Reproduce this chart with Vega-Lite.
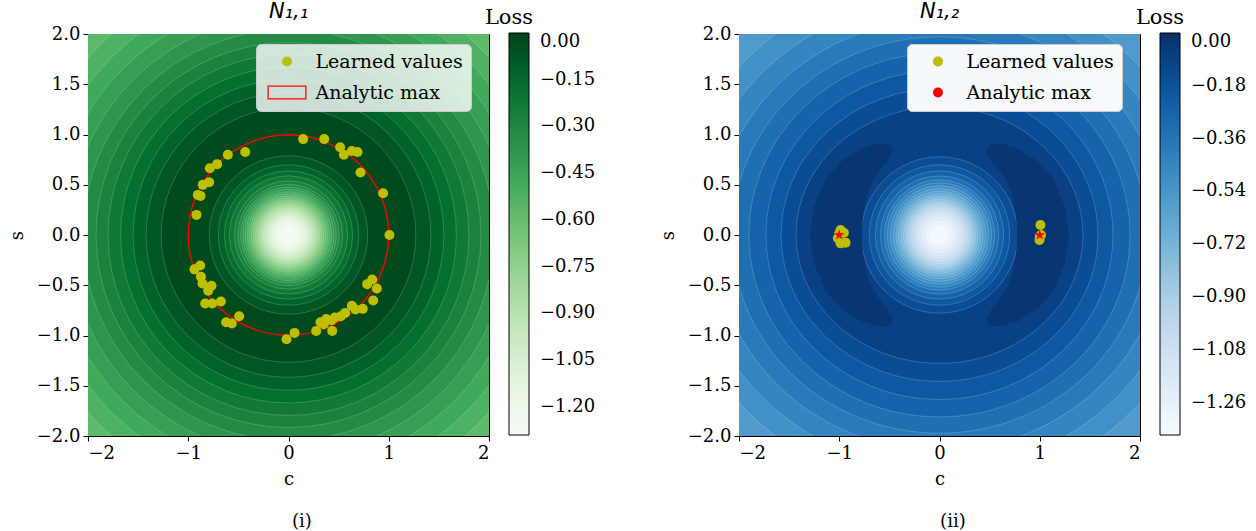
{
  "$schema": "https://vega.github.io/schema/vega-lite/v6.json",
  "padding": {"left": 7, "top": 0, "right": 2, "bottom": 0},
  "background": "white",
  "datasets": {
    "ringsL": [
      {"r": 2.85, "loss": -0.575}, {"r": 2.67, "loss": -0.525}, {"r": 2.50, "loss": -0.475}, {"r": 2.34, "loss": -0.425},
      {"r": 2.19, "loss": -0.375}, {"r": 2.05, "loss": -0.325},
      {"r": 1.92, "loss": -0.275}, {"r": 1.80, "loss": -0.225}, {"r": 1.675, "loss": -0.175}, {"r": 1.55, "loss": -0.125},
      {"r": 1.42, "loss": -0.075}, {"r": 1.27, "loss": -0.025}, {"r": 0.79, "loss": -0.075}, {"r": 0.70, "loss": -0.125},
      {"r": 0.64, "loss": -0.175}, {"r": 0.59, "loss": -0.225}, {"r": 0.54, "loss": -0.275}, {"r": 0.505, "loss": -0.325},
      {"r": 0.478, "loss": -0.375}, {"r": 0.455, "loss": -0.425}, {"r": 0.432, "loss": -0.475}, {"r": 0.41, "loss": -0.525},
      {"r": 0.39, "loss": -0.575}, {"r": 0.37, "loss": -0.625}, {"r": 0.35, "loss": -0.675}, {"r": 0.331, "loss": -0.725},
      {"r": 0.312, "loss": -0.775}, {"r": 0.293, "loss": -0.825}, {"r": 0.274, "loss": -0.875}, {"r": 0.255, "loss": -0.925},
      {"r": 0.235, "loss": -0.975}, {"r": 0.214, "loss": -1.025}, {"r": 0.192, "loss": -1.075}, {"r": 0.169, "loss": -1.125},
      {"r": 0.144, "loss": -1.175}, {"r": 0.114, "loss": -1.225}, {"r": 0.075, "loss": -1.265}
    ],
    "ringsR": [
      {"r": 3.15, "loss": -0.63, "sh": "e4"}, {"r": 2.90, "loss": -0.57, "sh": "e4"}, {"r": 2.66, "loss": -0.51, "sh": "e4"},
      {"r": 2.45, "loss": -0.45, "sh": "e4"}, {"r": 2.25, "loss": -0.39, "sh": "e4"}, {"r": 2.07, "loss": -0.33, "sh": "e4"},
      {"r": 1.90, "loss": -0.27, "sh": "e4"}, {"r": 1.73, "loss": -0.21, "sh": "e3"},
      {"r": 1.58, "loss": -0.15, "sh": "e2"}, {"r": 1.43, "loss": -0.09, "sh": "e1"},
      {"r": 0.78, "loss": -0.15, "sh": "c"}, {"r": 0.70, "loss": -0.21, "sh": "c"}, {"r": 0.64, "loss": -0.27, "sh": "c"},
      {"r": 0.59, "loss": -0.33, "sh": "c"}, {"r": 0.55, "loss": -0.39, "sh": "c"}, {"r": 0.521, "loss": -0.45, "sh": "c"},
      {"r": 0.491, "loss": -0.51, "sh": "c"}, {"r": 0.463, "loss": -0.57, "sh": "c"}, {"r": 0.436, "loss": -0.63, "sh": "c"},
      {"r": 0.41, "loss": -0.69, "sh": "c"}, {"r": 0.385, "loss": -0.75, "sh": "c"}, {"r": 0.36, "loss": -0.81, "sh": "c"},
      {"r": 0.335, "loss": -0.87, "sh": "c"}, {"r": 0.311, "loss": -0.93, "sh": "c"}, {"r": 0.286, "loss": -0.99, "sh": "c"},
      {"r": 0.261, "loss": -1.05, "sh": "c"}, {"r": 0.234, "loss": -1.11, "sh": "c"}, {"r": 0.206, "loss": -1.17, "sh": "c"},
      {"r": 0.175, "loss": -1.23, "sh": "c"}, {"r": 0.139, "loss": -1.29, "sh": "c"}, {"r": 0.093, "loss": -1.35, "sh": "c"}
    ],
    "cres": [
      {"id": "L", "k": 0, "c": -0.545, "s": 0.839, "w": 0.15, "loss": -0.03},
      {"id": "L", "k": 1, "c": -0.619, "s": 0.792, "w": 0.23, "loss": -0.03},
      {"id": "L", "k": 2, "c": -0.721, "s": 0.721, "w": 0.30, "loss": -0.03},
      {"id": "L", "k": 3, "c": -0.848, "s": 0.594, "w": 0.38, "loss": -0.03},
      {"id": "L", "k": 4, "c": -0.943, "s": 0.440, "w": 0.45, "loss": -0.03},
      {"id": "L", "k": 5, "c": -1.012, "s": 0.215, "w": 0.495, "loss": -0.03},
      {"id": "L", "k": 6, "c": -1.03, "s": 0.0, "w": 0.515, "loss": -0.03},
      {"id": "L", "k": 7, "c": -1.012, "s": -0.215, "w": 0.495, "loss": -0.03},
      {"id": "L", "k": 8, "c": -0.943, "s": -0.440, "w": 0.45, "loss": -0.03},
      {"id": "L", "k": 9, "c": -0.848, "s": -0.594, "w": 0.38, "loss": -0.03},
      {"id": "L", "k": 10, "c": -0.721, "s": -0.721, "w": 0.30, "loss": -0.03},
      {"id": "L", "k": 11, "c": -0.619, "s": -0.792, "w": 0.23, "loss": -0.03},
      {"id": "L", "k": 12, "c": -0.545, "s": -0.839, "w": 0.15, "loss": -0.03},
      {"id": "R", "k": 0, "c": 0.545, "s": 0.839, "w": 0.15, "loss": -0.03},
      {"id": "R", "k": 1, "c": 0.619, "s": 0.792, "w": 0.23, "loss": -0.03},
      {"id": "R", "k": 2, "c": 0.721, "s": 0.721, "w": 0.30, "loss": -0.03},
      {"id": "R", "k": 3, "c": 0.848, "s": 0.594, "w": 0.38, "loss": -0.03},
      {"id": "R", "k": 4, "c": 0.943, "s": 0.440, "w": 0.45, "loss": -0.03},
      {"id": "R", "k": 5, "c": 1.012, "s": 0.215, "w": 0.495, "loss": -0.03},
      {"id": "R", "k": 6, "c": 1.03, "s": 0.0, "w": 0.515, "loss": -0.03},
      {"id": "R", "k": 7, "c": 1.012, "s": -0.215, "w": 0.495, "loss": -0.03},
      {"id": "R", "k": 8, "c": 0.943, "s": -0.440, "w": 0.45, "loss": -0.03},
      {"id": "R", "k": 9, "c": 0.848, "s": -0.594, "w": 0.38, "loss": -0.03},
      {"id": "R", "k": 10, "c": 0.721, "s": -0.721, "w": 0.30, "loss": -0.03},
      {"id": "R", "k": 11, "c": 0.619, "s": -0.792, "w": 0.23, "loss": -0.03},
      {"id": "R", "k": 12, "c": 0.545, "s": -0.839, "w": 0.15, "loss": -0.03}
    ],
    "maxL": [{"r": 1}],
    "maxR": [{"c": -1, "s": 0, "kind": "Analytic max"}, {"c": 1, "s": 0, "kind": "Analytic max"}],
    "ptsL": [
      {"c": 0.146, "s": 0.954, "kind": "Learned values"}, {"c": 0.356, "s": 0.954, "kind": "Learned values"},
      {"c": 0.515, "s": 0.874, "kind": "Learned values"}, {"c": 0.552, "s": 0.798, "kind": "Learned values"},
      {"c": 0.632, "s": 0.835, "kind": "Learned values"}, {"c": 0.688, "s": 0.825, "kind": "Learned values"},
      {"c": 0.718, "s": 0.622, "kind": "Learned values"}, {"c": 0.944, "s": 0.416, "kind": "Learned values"},
      {"c": 1.007, "s": 0.0, "kind": "Learned values"}, {"c": 0.835, "s": -0.442, "kind": "Learned values"},
      {"c": 0.785, "s": -0.489, "kind": "Learned values"}, {"c": 0.881, "s": -0.532, "kind": "Learned values"},
      {"c": 0.845, "s": -0.652, "kind": "Learned values"}, {"c": 0.632, "s": -0.705, "kind": "Learned values"},
      {"c": 0.668, "s": -0.741, "kind": "Learned values"}, {"c": 0.741, "s": -0.735, "kind": "Learned values"},
      {"c": 0.565, "s": -0.775, "kind": "Learned values"}, {"c": 0.522, "s": -0.808, "kind": "Learned values"},
      {"c": 0.462, "s": -0.821, "kind": "Learned values"}, {"c": 0.429, "s": -0.848, "kind": "Learned values"},
      {"c": 0.376, "s": -0.835, "kind": "Learned values"}, {"c": 0.319, "s": -0.868, "kind": "Learned values"},
      {"c": 0.352, "s": -0.888, "kind": "Learned values"}, {"c": 0.436, "s": -0.954, "kind": "Learned values"},
      {"c": 0.276, "s": -0.954, "kind": "Learned values"}, {"c": 0.06, "s": -0.974, "kind": "Learned values"},
      {"c": -0.02, "s": -1.037, "kind": "Learned values"}, {"c": -0.492, "s": -0.808, "kind": "Learned values"},
      {"c": -0.565, "s": -0.881, "kind": "Learned values"}, {"c": -0.622, "s": -0.868, "kind": "Learned values"},
      {"c": -0.675, "s": -0.662, "kind": "Learned values"}, {"c": -0.761, "s": -0.682, "kind": "Learned values"},
      {"c": -0.831, "s": -0.682, "kind": "Learned values"}, {"c": -0.768, "s": -0.505, "kind": "Learned values"},
      {"c": -0.801, "s": -0.555, "kind": "Learned values"}, {"c": -0.858, "s": -0.482, "kind": "Learned values"},
      {"c": -0.874, "s": -0.416, "kind": "Learned values"}, {"c": -0.938, "s": -0.342, "kind": "Learned values"},
      {"c": -0.881, "s": -0.303, "kind": "Learned values"}, {"c": -0.918, "s": 0.2, "kind": "Learned values"},
      {"c": -0.878, "s": 0.389, "kind": "Learned values"}, {"c": -0.904, "s": 0.399, "kind": "Learned values"},
      {"c": -0.855, "s": 0.499, "kind": "Learned values"}, {"c": -0.791, "s": 0.525, "kind": "Learned values"},
      {"c": -0.785, "s": 0.665, "kind": "Learned values"}, {"c": -0.712, "s": 0.705, "kind": "Learned values"},
      {"c": -0.605, "s": 0.798, "kind": "Learned values"}, {"c": -0.432, "s": 0.825, "kind": "Learned values"}
    ],
    "ptsR": [
      {"c": -0.987, "s": 0.05, "kind": "Learned values"}, {"c": -0.954, "s": 0.022, "kind": "Learned values"},
      {"c": -1.014, "s": -0.033, "kind": "Learned values"}, {"c": -0.987, "s": -0.083, "kind": "Learned values"},
      {"c": -0.937, "s": -0.076, "kind": "Learned values"}, {"c": -1.0, "s": 0.017, "kind": "Learned values"},
      {"c": 1.007, "s": 0.1, "kind": "Learned values"}, {"c": 1.0, "s": -0.017, "kind": "Learned values"},
      {"c": 0.997, "s": -0.05, "kind": "Learned values"}, {"c": 1.013, "s": 0.0, "kind": "Learned values"}
    ]
  },
  "hconcat": [
    {
      "vconcat": [
        {
          "width": 401,
          "height": 402,
          "title": {"text": "N₁,₁", "frame": "group", "anchor": "middle", "offset": 3},
          "resolve": {"scale": {"size": "independent"}},
          "layer": [
            {
              "data": {"name": "ringsL"},
              "mark": {"type": "circle", "opacity": 1, "stroke": "white", "strokeOpacity": 0.3, "strokeWidth": 0.6, "clip": true},
              "encoding": {
                "x": {"datum": 0, "type": "quantitative", "title": "c", "scale": {"domain": [-2, 2], "nice": false, "zero": false}, "axis": {"values": [-2, -1, 0, 1, 2], "format": "d", "titlePadding": 8}},
                "y": {"datum": 0, "type": "quantitative", "title": "s", "scale": {"domain": [-2, 2], "nice": false, "zero": false}, "axis": {"values": [-2, -1.5, -1, -0.5, 0, 0.5, 1, 1.5, 2], "format": ".1f", "titlePadding": 10}},
                "size": {"field": "r", "type": "quantitative", "scale": {"type": "pow", "exponent": 2, "domain": [0, 3], "range": [0, 361802]}, "legend": null},
                "fill": {"field": "loss", "type": "quantitative", "scale": {"domain": [-1.29, 0], "range": ["#f7fcf5", "#e5f5e0", "#c7e9c0", "#a1d99b", "#74c476", "#41ab5d", "#238b45", "#006d2c", "#00441b"]},
                  "legend": {"title": "Loss", "orient": "none", "legendX": 397, "legendY": -27, "direction": "vertical", "gradientLength": 402, "gradientThickness": 20, "gradientStrokeColor": "black", "gradientStrokeWidth": 1, "values": [0, -0.15, -0.3, -0.45, -0.6, -0.75, -0.9, -1.05, -1.2], "format": ".2f", "labelFont": "DejaVu Serif", "labelFontSize": 18, "labelColor": "black", "labelOffset": 11, "labelOverlap": false, "titleFont": "DejaVu Serif", "titleFontSize": 21, "titleFontWeight": "normal", "titleColor": "black", "titleAnchor": "start", "titleAlign": "center", "titlePadding": 5, "padding": 0}},
                "order": {"field": "r", "type": "quantitative", "sort": "descending"}
              }
            },
            {
              "layer": [
                {
                  "data": {"name": "maxL"},
                  "mark": {"type": "point", "filled": false, "stroke": "#ff0000", "opacity": 1, "strokeWidth": 1.4, "clip": true},
                  "encoding": {
                    "x": {"datum": 0, "type": "quantitative", "title": "c"},
                    "y": {"datum": 0, "type": "quantitative", "title": "s"},
                    "size": {"field": "r", "type": "quantitative", "scale": {"type": "pow", "exponent": 2, "domain": [0, 3], "range": [0, 361802]}, "legend": null}
                  }
                },
                {
                  "data": {"name": "ptsL"},
                  "mark": {"type": "point", "filled": true, "size": 100, "opacity": 1},
                  "encoding": {
                    "x": {"field": "c", "type": "quantitative", "title": "c"},
                    "y": {"field": "s", "type": "quantitative", "title": "s"},
                    "color": {"field": "kind", "type": "nominal", "scale": {"domain": ["Learned values", "Analytic max"], "range": ["#bfbf00", "#ff0000"]},
                      "legend": {"orient": "none", "legendX": 168, "legendY": 10, "title": null, "fillColor": "rgba(255,255,255,0.8)", "strokeColor": "#cccccc", "cornerRadius": 5, "padding": 8, "labelFont": "DejaVu Serif", "labelFontSize": 19, "labelColor": "black", "labelOffset": 19, "labelLimit": 300, "symbolSize": 100, "symbolOffset": 13.5, "rowPadding": 11}},
                    "shape": {"field": "kind", "type": "nominal", "scale": {"domain": ["Learned values", "Analytic max"], "range": ["circle", "M-3.9,-1.4H3.9V1.4H-3.9ZM-3.65,-1.15V1.15H3.65V-1.15Z"]},
                      "legend": {"orient": "none", "legendX": 168, "legendY": 10, "title": null, "fillColor": "rgba(255,255,255,0.8)", "strokeColor": "#cccccc", "cornerRadius": 5, "padding": 8, "labelFont": "DejaVu Serif", "labelFontSize": 19, "labelColor": "black", "labelOffset": 19, "labelLimit": 300, "symbolSize": 100, "symbolOffset": 13.5, "rowPadding": 11}}
                  }
                }
              ]
            }
          ]
        }
      ],
      "title": {"text": "(i)", "orient": "bottom", "anchor": "middle", "font": "DejaVu Serif", "fontStyle": "normal", "fontSize": 18, "offset": 24}
    },
    {
      "vconcat": [
        {
          "width": 401,
          "height": 402,
          "title": {"text": "N₁,₂", "frame": "group", "anchor": "middle", "offset": 3},
          "resolve": {"scale": {"size": "independent", "shape": "independent"}},
          "layer": [
            {
              "data": {"name": "ringsR"},
              "mark": {"type": "point", "filled": true, "opacity": 1, "stroke": "white", "strokeOpacity": 0.3, "strokeWidth": 0.6, "clip": true},
              "encoding": {
                "x": {"datum": 0, "type": "quantitative", "title": "c", "scale": {"domain": [-2, 2], "nice": false, "zero": false}, "axis": {"values": [-2, -1, 0, 1, 2], "format": "d", "titlePadding": 8}},
                "y": {"datum": 0, "type": "quantitative", "title": "s", "scale": {"domain": [-2, 2], "nice": false, "zero": false}, "axis": {"values": [-2, -1.5, -1, -0.5, 0, 0.5, 1, 1.5, 2], "format": ".1f", "titlePadding": 10}},
                "size": {"field": "r", "type": "quantitative", "scale": {"type": "pow", "exponent": 2, "domain": [0, 3], "range": [0, 361802]}, "legend": null},
                "shape": {"field": "sh", "type": "nominal", "scale": {"domain": ["c", "e1", "e2", "e3", "e4", "Learned values", "Analytic max"], "range": ["circle",
                  "M-1,0C-1,-0.4943,-0.5523,-0.895,0,-0.895C0.5523,-0.895,1,-0.4943,1,0C1,0.4943,0.5523,0.895,0,0.895C-0.5523,0.895,-1,0.4943,-1,0Z",
                  "M-1,0C-1,-0.5103,-0.5523,-0.924,0,-0.924C0.5523,-0.924,1,-0.5103,1,0C1,0.5103,0.5523,0.924,0,0.924C-0.5523,0.924,-1,0.5103,-1,0Z",
                  "M-1,0C-1,-0.5236,-0.5523,-0.948,0,-0.948C0.5523,-0.948,1,-0.5236,1,0C1,0.5236,0.5523,0.948,0,0.948C-0.5523,0.948,-1,0.5236,-1,0Z",
                  "M-1,0C-1,-0.5274,-0.5523,-0.955,0,-0.955C0.5523,-0.955,1,-0.5274,1,0C1,0.5274,0.5523,0.955,0,0.955C-0.5523,0.955,-1,0.5274,-1,0Z",
                  "circle",
                  "M0,-1L0.2245,-0.309L0.951,-0.309L0.3633,0.118L0.588,0.809L0,0.382L-0.588,0.809L-0.3633,0.118L-0.951,-0.309L-0.2245,-0.309Z"]}, "legend": null},
                "fill": {"field": "loss", "type": "quantitative", "scale": {"domain": [-1.37, 0], "range": ["#f7fbff", "#deebf7", "#c6dbef", "#9ecae1", "#6baed6", "#4292c6", "#2171b5", "#08519c", "#08306b"]},
                  "legend": {"title": "Loss", "orient": "none", "legendX": 397, "legendY": -27, "direction": "vertical", "gradientLength": 402, "gradientThickness": 20, "gradientStrokeColor": "black", "gradientStrokeWidth": 1, "values": [0, -0.18, -0.36, -0.54, -0.72, -0.9, -1.08, -1.26], "format": ".2f", "labelFont": "DejaVu Serif", "labelFontSize": 18, "labelColor": "black", "labelOffset": 11, "labelOverlap": false, "titleFont": "DejaVu Serif", "titleFontSize": 21, "titleFontWeight": "normal", "titleColor": "black", "titleAnchor": "start", "titleAlign": "center", "titlePadding": 5, "padding": 0}},
                "order": {"field": "r", "type": "quantitative", "sort": "descending"}
              }
            },
            {
              "data": {"name": "cres"},
              "mark": {"type": "trail", "opacity": 1, "clip": true},
              "encoding": {
                "x": {"field": "c", "type": "quantitative", "title": "c"},
                "y": {"field": "s", "type": "quantitative", "title": "s"},
                "size": {"field": "w", "type": "quantitative", "scale": {"domain": [0, 1], "range": [0, 100.25]}, "legend": null},
                "fill": {"field": "loss", "type": "quantitative"},
                "detail": {"field": "id", "type": "nominal"},
                "order": {"field": "k", "type": "quantitative"}
              }
            },
            {
              "layer": [
                {
                  "data": {"name": "ptsR"},
                  "mark": {"type": "point", "filled": true, "size": 100, "opacity": 1},
                  "encoding": {
                    "x": {"field": "c", "type": "quantitative", "title": "c"},
                    "y": {"field": "s", "type": "quantitative", "title": "s"},
                    "color": {"field": "kind", "type": "nominal", "scale": {"domain": ["Learned values", "Analytic max"], "range": ["#bfbf00", "#ff0000"]},
                      "legend": {"orient": "none", "legendX": 168, "legendY": 10, "title": null, "fillColor": "rgba(255,255,255,0.8)", "strokeColor": "#cccccc", "cornerRadius": 5, "padding": 8, "labelFont": "DejaVu Serif", "labelFontSize": 19, "labelColor": "black", "labelOffset": 19, "labelLimit": 300, "symbolSize": 100, "symbolOffset": 13.5, "rowPadding": 11}},
                    "shape": {"field": "kind", "type": "nominal", "scale": {"domain": ["Learned values", "Analytic max"], "range": ["circle", "M0,-1L0.2245,-0.309L0.951,-0.309L0.3633,0.118L0.588,0.809L0,0.382L-0.588,0.809L-0.3633,0.118L-0.951,-0.309L-0.2245,-0.309Z"]},
                      "legend": {"orient": "none", "legendX": 168, "legendY": 10, "title": null, "fillColor": "rgba(255,255,255,0.8)", "strokeColor": "#cccccc", "cornerRadius": 5, "padding": 8, "labelFont": "DejaVu Serif", "labelFontSize": 19, "labelColor": "black", "labelOffset": 19, "labelLimit": 300, "symbolSize": 100, "symbolOffset": 13.5, "rowPadding": 11}}
                  }
                },
                {
                  "data": {"name": "maxR"},
                  "mark": {"type": "point", "filled": true, "size": 130, "opacity": 1},
                  "encoding": {
                    "x": {"field": "c", "type": "quantitative", "title": "c"},
                    "y": {"field": "s", "type": "quantitative", "title": "s"},
                    "color": {"field": "kind", "type": "nominal"},
                    "shape": {"field": "kind", "type": "nominal"}
                  }
                }
              ]
            }
          ]
        }
      ],
      "title": {"text": "(ii)", "orient": "bottom", "anchor": "middle", "font": "DejaVu Serif", "fontStyle": "normal", "fontSize": 18, "offset": 24}
    }
  ],
  "spacing": 62,
  "resolve": {"scale": {"fill": "independent", "color": "independent", "size": "independent", "shape": "independent", "x": "independent", "y": "independent"}, "legend": {"fill": "independent", "color": "independent", "shape": "independent"}},
  "config": {
    "font": "DejaVu Serif",
    "view": {"stroke": "black", "strokeWidth": 1},
    "axis": {"labelFont": "DejaVu Serif", "labelFontSize": 18, "labelColor": "black", "titleFont": "DejaVu Serif", "titleFontSize": 18, "titleFontWeight": "normal", "titleColor": "black", "domainColor": "black", "tickColor": "black", "tickSize": 5, "grid": false, "labelPadding": 3},
    "title": {"font": "DejaVu Sans", "fontSize": 21, "fontWeight": "normal", "fontStyle": "italic", "color": "black"},
    "legend": {"labelFont": "DejaVu Serif", "titleFont": "DejaVu Serif"}
  }
}
